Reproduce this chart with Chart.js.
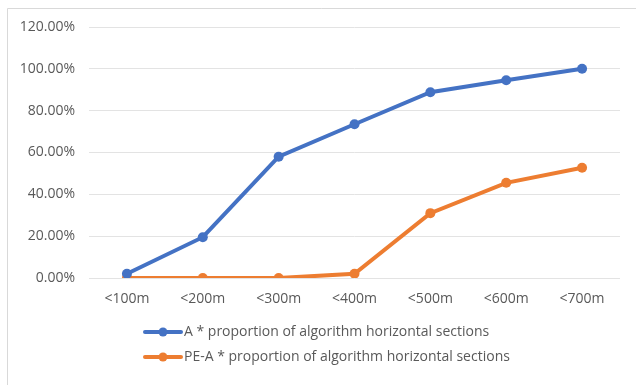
<!DOCTYPE html>
<html>
<head>
<meta charset="utf-8">
<script src="https://cdn.jsdelivr.net/npm/chart.js@4.4.1/dist/chart.umd.min.js"></script>
<style>
  html, body { margin: 0; padding: 0; background: #ffffff; }
  #wrap { width: 636px; height: 385px; position: relative; }
</style>
</head>
<body>
<div id="wrap"><canvas id="chart"></canvas></div>
<script>
// Distance classes along the x axis
const categories = ['<100m', '<200m', '<300m', '<400m', '<500m', '<600m', '<700m'];

// Proportion of horizontal sections (%) for each algorithm
const seriesA = [2.0, 19.5, 58.0, 73.5, 88.8, 94.5, 100.0];
const seriesPEA = [0.0, 0.0, 0.0, 2.0, 31.0, 45.5, 52.7];

const seriesNames = [
  'A * proportion of algorithm horizontal sections',
  'PE-A * proportion of algorithm horizontal sections'
];

const yTicks = [0, 20, 40, 60, 80, 100, 120];

const BLUE = '#4472c4';
const ORANGE = '#ed7d31';
const TEXT = '#595959';
const FONT = "'Open Sans', 'Noto Sans', sans-serif";

// Outer frame plus a stacked legend below the axes
const framePlugin = {
  id: 'frameAndLegend',
  beforeDraw(chart) {
    const ctx = chart.ctx;
    ctx.save();
    ctx.fillStyle = '#ffffff';
    ctx.fillRect(0, 0, chart.width, chart.height);
    ctx.strokeStyle = '#d9d9d9';
    ctx.lineWidth = 1;
    ctx.beginPath();
    ctx.moveTo(7.5, chart.height);
    ctx.lineTo(7.5, 8.5);
    ctx.lineTo(chart.width, 8.5);
    ctx.stroke();
    ctx.restore();
  },
  afterDraw(chart) {
    const ctx = chart.ctx;
    const x0 = 145;
    const rows = [332, 357];
    ctx.save();
    chart.data.datasets.forEach((ds, i) => {
      const y = rows[i];
      ctx.strokeStyle = ds.borderColor;
      ctx.lineWidth = 4;
      ctx.lineCap = 'round';
      ctx.beginPath();
      ctx.moveTo(x0, y);
      ctx.lineTo(x0 + 36, y);
      ctx.stroke();
      ctx.fillStyle = ds.borderColor;
      ctx.beginPath();
      ctx.arc(x0 + 18, y, 4.5, 0, Math.PI * 2);
      ctx.fill();
      ctx.fillStyle = TEXT;
      ctx.font = '14px ' + FONT;
      ctx.textBaseline = 'middle';
      ctx.textAlign = 'left';
      ctx.fillText(ds.label, x0 + 39, y);
    });
    ctx.restore();
  }
};

new Chart(document.getElementById('chart'), {
  type: 'line',
  data: {
    labels: categories,
    datasets: [
      {
        label: seriesNames[0],
        data: seriesA,
        borderColor: BLUE,
        backgroundColor: BLUE,
        borderWidth: 4,
        pointRadius: 5,
        pointHoverRadius: 5,
        pointBorderWidth: 0,
        tension: 0
      },
      {
        label: seriesNames[1],
        data: seriesPEA,
        borderColor: ORANGE,
        backgroundColor: ORANGE,
        borderWidth: 4,
        pointRadius: 5,
        pointHoverRadius: 5,
        pointBorderWidth: 0,
        tension: 0
      }
    ]
  },
  options: {
    responsive: true,
    maintainAspectRatio: false,
    animation: false,
    events: [],
    layout: { padding: { left: 0, right: 16, top: 27, bottom: 77 } },
    plugins: {
      legend: { display: false },
      tooltip: { enabled: false }
    },
    scales: {
      x: {
        offset: true,
        grid: { display: false, drawTicks: false },
        border: { display: false },
        ticks: {
          color: TEXT,
          font: { family: FONT, size: 14 },
          padding: 13,
          maxRotation: 0,
          autoSkip: false
        },
        afterFit(scale) { scale.height = 30; }
      },
      y: {
        min: 0,
        max: 120,
        afterBuildTicks(scale) { scale.ticks = yTicks.map(v => ({ value: v })); },
        grid: { color: '#e3e3e3', lineWidth: 1, drawTicks: false },
        border: { display: false },
        ticks: {
          color: TEXT,
          font: { family: FONT, size: 14 },
          padding: 14,
          callback: v => v.toFixed(2) + '%'
        },
        afterFit(scale) { scale.width = 89; }
      }
    }
  },
  plugins: [framePlugin]
});
</script>
</body>
</html>
